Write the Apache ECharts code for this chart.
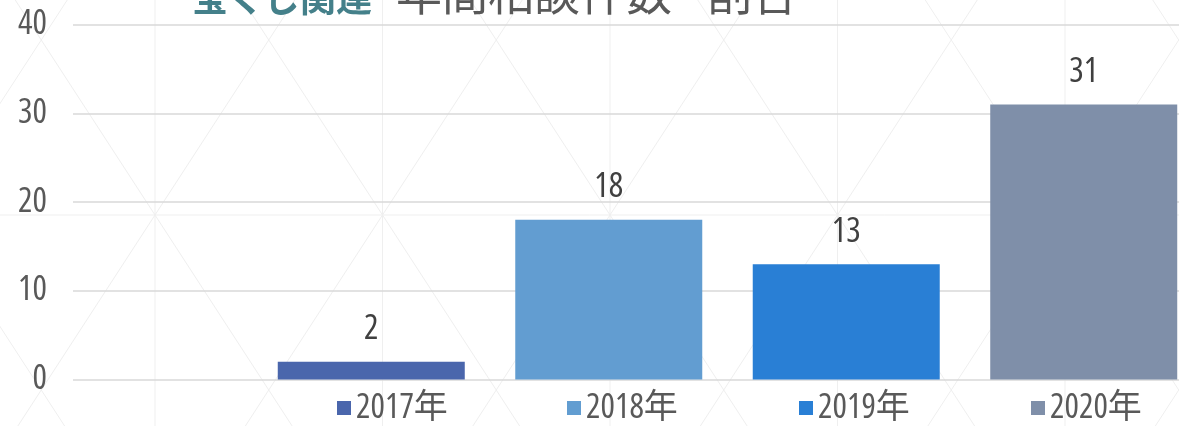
<!DOCTYPE html>
<html lang="ja">
<head>
    <meta charset="UTF-8">
    <title>宝くじ関連 年間相談件数</title>
    <script src="https://cdn.jsdelivr.net/npm/echarts@6/dist/echarts.min.js"></script>
    <style>
        html, body { margin: 0; padding: 0; background: #fff; }
    </style>
</head>
<body>
<div style="height: 426px;width: 1179px" id="chartBox"></div>
<script type="text/javascript">
    // データ
    var years = ['2017年', '2018年', '2019年', '2020年'];
    var counts = [2, 18, 13, 31];
    var barColors = ['#4a66ac', '#629dd1', '#297fd5', '#7f8fa9'];
    var yTicks = [0, 10, 20, 30, 40];

    // 細い数字フォント（condensed を fontWeight 経由で渡す）
    var numFont = "'Open Sans', 'Noto Sans CJK JP', sans-serif";
    var numStretch = 'condensed';

    var myChart = echarts.init(document.getElementById('chartBox'));

    // 背景の三角模様
    var bgLines = [];
    var lineStyle = { stroke: '#efefef', lineWidth: 1 };
    for (var k = -2; k <= 7; k++) {
        var x0 = 155 + 227.5 * k;
        bgLines.push({ type: 'line', silent: true, z: -10, shape: { x1: x0, y1: 0, x2: x0, y2: 426 }, style: lineStyle });
        bgLines.push({ type: 'line', silent: true, z: -10, shape: { x1: x0 + 146.25, y1: -10, x2: x0 - 143.65, y2: 436 }, style: lineStyle });
        bgLines.push({ type: 'line', silent: true, z: -10, shape: { x1: x0 - 146.25, y1: -10, x2: x0 + 143.65, y2: 436 }, style: lineStyle });
    }
    bgLines.push({ type: 'line', silent: true, z: -10, shape: { x1: 0, y1: 215, x2: 1179, y2: 215 }, style: lineStyle });

    var series = years.map(function (name, i) {
        return {
            name: name,
            type: 'bar',
            data: [counts[i]],
            barWidth: 187,
            barGap: '27%',
            itemStyle: { color: barColors[i] },
            label: {
                show: true,
                position: 'top',
                distance: 15,
                fontFamily: numFont,
                fontWeight: numStretch,
                fontSize: 34,
                color: '#404040'
            }
        };
    });

    // 凡例は年ごとに1つずつ置く
    var legendLeft = [337, 567, 799, 1031];
    var legends = years.map(function (name, i) {
        return {
            left: legendLeft[i],
            top: 391,
            padding: 0,
            itemWidth: 14,
            itemHeight: 14,
            icon: 'rect',
            data: [name],
            textStyle: { fontFamily: numFont, fontWeight: numStretch, fontSize: 34, color: '#595959' }
        };
    });

    var option = {
        animation: false,
        backgroundColor: '#fff',
        graphic: bgLines,
        title: {
            left: 192,
            top: -30,
            padding: 0,
            text: '{a|宝くじ関連}{b|年間相談件数}{c|割合}',
            textStyle: {
                rich: {
                    a: { fontFamily: 'Noto Sans CJK JP', fontSize: 36, color: '#44808a', fontWeight: 'bold', verticalAlign: 'bottom' },
                    b: { fontFamily: 'Noto Sans CJK JP', fontSize: 46, color: '#595959', fontWeight: 'normal', verticalAlign: 'bottom', padding: [0, 0, 0, 24] },
                    c: { fontFamily: 'Noto Sans CJK JP', fontSize: 46, color: '#595959', fontWeight: 'normal', verticalAlign: 'bottom', padding: [0, 0, 0, 34] }
                }
            }
        },
        legend: legends,
        grid: { left: 73, width: 1309, top: 24.5, bottom: 46.5, containLabel: false, outerBoundsMode: 'none' },
        xAxis: {
            type: 'category',
            data: [''],
            axisLine: { show: false },
            axisTick: { show: false },
            axisLabel: { show: false }
        },
        yAxis: {
            type: 'value',
            min: yTicks[0],
            max: yTicks[yTicks.length - 1],
            interval: 10,
            axisLine: { show: false },
            axisTick: { show: false },
            axisLabel: { margin: 26, fontFamily: numFont, fontWeight: numStretch, fontSize: 34, color: '#595959' },
            splitLine: { lineStyle: { color: '#d9d9d9', width: 1.5 } }
        },
        series: series
    };

    myChart.setOption(option);
</script>
</body>
</html>
